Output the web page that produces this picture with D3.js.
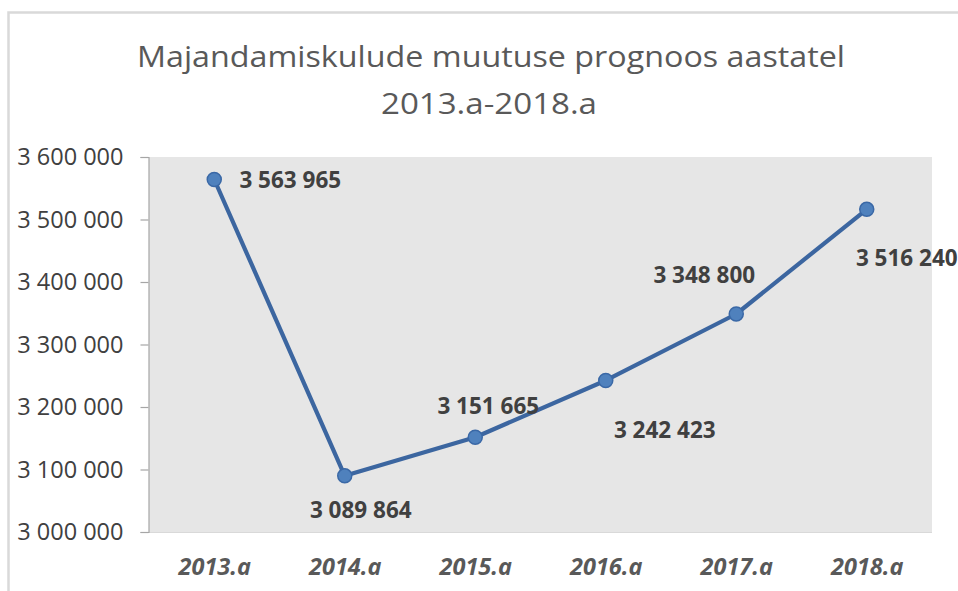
<!DOCTYPE html>
<html>
<head>
<meta charset="utf-8">
<script src="https://cdn.jsdelivr.net/npm/d3@7"></script>
<style>
  html, body { margin: 0; padding: 0; background: #ffffff; }
  svg { display: block; }
</style>
</head>
<body>
<svg id="chart" width="958" height="591"></svg>
<script>
// Forecast of operating costs, 2013–2018
const titleLines = ["Majandamiskulude muutuse prognoos aastatel", "2013.a-2018.a"];
const years = ["2013.a", "2014.a", "2015.a", "2016.a", "2017.a", "2018.a"];
const costs = [3563965, 3089864, 3151665, 3242423, 3348800, 3516240];
const yTicks = [3000000, 3100000, 3200000, 3300000, 3400000, 3500000, 3600000];
const yDomain = [3000000, 3600000];

// Hand-placed label offsets (dx, dy from each marker to the label's centre/baseline)
const labelNudge = [[76, 8.5], [16, 42], [13, -23], [59, 57.5], [-32, -31.5], [40, 56.6]];

const svg = d3.select("#chart");
const W = 958, H = 591;
const plot = { left: 149, right: 932, top: 157, bottom: 532 };

const fmt = d3.formatLocale({ decimal: ",", thousands: " ", grouping: [3], currency: ["", ""] }).format(",d");

// Chart frame
svg.append("rect")
  .attr("x", 8.5).attr("y", 12.5)
  .attr("width", W + 20).attr("height", H + 20)
  .attr("fill", "#ffffff")
  .attr("stroke", "#d9d9d9").attr("stroke-width", 2.5);

// Title
const title = svg.append("g")
  .attr("font-family", "'Open Sans', 'DejaVu Sans', sans-serif")
  .attr("font-weight", 400)
  .attr("font-size", 30)
  .attr("fill", "#595959")
  .attr("text-anchor", "middle");
title.append("text").attr("x", 491).attr("y", 67)
  .attr("textLength", 708).attr("lengthAdjust", "spacingAndGlyphs")
  .text(titleLines[0]);
title.append("text").attr("x", 489).attr("y", 114)
  .attr("textLength", 216).attr("lengthAdjust", "spacingAndGlyphs")
  .text(titleLines[1]);

// Scales
const x = d3.scalePoint().domain(years).range([plot.left, plot.right]).padding(0.5);
const y = d3.scaleLinear().domain(yDomain).range([plot.bottom, plot.top]);

// Plot area
svg.append("rect")
  .attr("x", plot.left).attr("y", plot.top)
  .attr("width", plot.right - plot.left).attr("height", plot.bottom - plot.top)
  .attr("fill", "#e6e6e6");
svg.append("line")
  .attr("x1", plot.left).attr("x2", plot.right)
  .attr("y1", plot.bottom + 0.5).attr("y2", plot.bottom + 0.5)
  .attr("stroke", "#d9d9d9").attr("stroke-width", 1);

// Y axis
const yAxis = svg.append("g")
  .attr("transform", `translate(${plot.left - 0.5},0)`)
  .call(d3.axisLeft(y).tickValues(yTicks).tickFormat(fmt).tickSize(8).tickPadding(17));
yAxis.select(".domain").attr("stroke", "#a6a6a6").attr("stroke-width", 1.2);
yAxis.selectAll(".tick line").attr("stroke", "#a6a6a6").attr("stroke-width", 1.2);
yAxis.selectAll(".tick text")
  .attr("font-family", "'Open Sans', 'DejaVu Sans', sans-serif")
  .attr("font-size", 23.5)
  .attr("fill", "#404040");

// X axis labels
const xAxis = svg.append("g")
  .attr("transform", `translate(0,${plot.bottom})`)
  .call(d3.axisBottom(x).tickSize(0).tickPadding(0));
xAxis.select(".domain").remove();
xAxis.selectAll(".tick text")
  .attr("y", 43).attr("dy", 0)
  .attr("font-family", "'Open Sans', 'DejaVu Sans', sans-serif")
  .attr("font-size", 23.5)
  .attr("font-weight", "bold")
  .attr("font-style", "italic")
  .attr("fill", "#595959");

// Series line
const line = d3.line().x((d, i) => x(years[i])).y(d => y(d));
svg.append("path")
  .datum(costs)
  .attr("d", line)
  .attr("fill", "none")
  .attr("stroke", "#3c66a0")
  .attr("stroke-width", 4.2)
  .attr("stroke-linejoin", "round");

// Markers
svg.append("g").selectAll("circle")
  .data(costs)
  .join("circle")
  .attr("cx", (d, i) => x(years[i]))
  .attr("cy", d => y(d))
  .attr("r", 7)
  .attr("fill", "#4f81bd")
  .attr("stroke", "#3a68a6")
  .attr("stroke-width", 1.5);

// Value labels
svg.append("g").selectAll("text")
  .data(costs)
  .join("text")
  .attr("x", (d, i) => x(years[i]) + labelNudge[i][0])
  .attr("y", (d, i) => y(d) + labelNudge[i][1])
  .attr("text-anchor", "middle")
  .attr("font-family", "'Open Sans', 'DejaVu Sans', sans-serif")
  .attr("font-size", 22.5)
  .attr("font-weight", "bold")
  .attr("fill", "#404040")
  .text(d => fmt(d));
</script>
</body>
</html>
